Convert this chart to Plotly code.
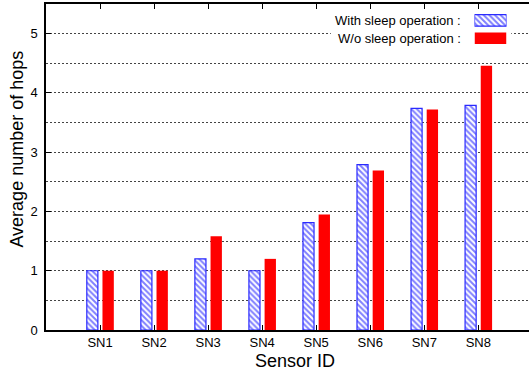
import plotly.graph_objects as go

# Average hop count per sensor node, with and without sleep scheduling
sensors = ["SN1", "SN2", "SN3", "SN4", "SN5", "SN6", "SN7", "SN8"]
hops_with_sleep = [1.0, 1.0, 1.2, 1.0, 1.81, 2.79, 3.74, 3.79]
hops_without_sleep = [1.0, 1.0, 1.58, 1.2, 1.95, 2.69, 3.72, 4.46]
series_names = ["With sleep operation :", "W/o sleep operation :"]
y_tick_values = [0, 1, 2, 3, 4, 5]

positions = list(range(1, len(sensors) + 1))

FONT = "Liberation Sans, Arial, Helvetica, sans-serif"
BLUE = "#0000ff"
RED = "#ff0000"

hatch = dict(shape="\\", fgcolor=BLUE, bgcolor="white", size=4, solidity=0.5)

fig = go.Figure()

fig.add_trace(go.Bar(
    x=positions, y=hops_with_sleep, name=series_names[0],
    width=0.205, offset=-0.245,
    marker=dict(color="white", pattern=hatch,
                line=dict(color="#2a2aff", width=1.2)),
    showlegend=False,
))
fig.add_trace(go.Bar(
    x=positions, y=hops_without_sleep, name=series_names[1],
    width=0.21, offset=0.045,
    marker=dict(color=RED, line=dict(width=0)),
    showlegend=False,
))

# Key swatches drawn in a small inset subplot next to the key labels
key_rows = [0, 1]
key_lengths = [1, 1]
fig.add_trace(go.Bar(
    x=key_lengths[:1], y=key_rows[:1], orientation="h", width=0.65,
    marker=dict(color="white", pattern=hatch,
                line=dict(color="#2a2aff", width=1.2)),
    xaxis="x2", yaxis="y2", showlegend=False, hoverinfo="skip",
))
fig.add_trace(go.Bar(
    x=key_lengths[1:], y=key_rows[1:], orientation="h", width=0.65,
    marker=dict(color=RED, line=dict(width=0)),
    xaxis="x2", yaxis="y2", showlegend=False, hoverinfo="skip",
))

grid_style = dict(gridcolor="#444444", gridwidth=1, griddash="2px,2px")

fig.update_layout(
    width=529, height=371,
    margin=dict(l=46, r=0, t=4, b=41),
    paper_bgcolor="white", plot_bgcolor="white",
    barmode="overlay",
    font=dict(family=FONT, size=13, color="black"),
    xaxis=dict(
        range=[0, 8.938],
        tickvals=positions, ticktext=sensors,
        ticks="inside", ticklen=5, tickwidth=1, tickcolor="black",
        showline=True, linecolor="black", linewidth=1.5, mirror="ticks",
        showgrid=False, zeroline=False,
        tickfont=dict(family=FONT, size=13),
    ),
    yaxis=dict(
        range=[0, 5.5],
        tickvals=y_tick_values,
        ticks="inside", ticklen=5, tickwidth=1, tickcolor="black",
        showline=True, linecolor="black", linewidth=1.5,
        showgrid=True, zeroline=False,
        minor=dict(dtick=0.5, showgrid=True, **grid_style),
        tickfont=dict(family=FONT, size=13),
        ticklabelstandoff=4,
        **grid_style,
    ),
    xaxis2=dict(domain=[0.8872, 0.9534], anchor="y2", range=[0, 1],
                visible=False, fixedrange=True),
    yaxis2=dict(domain=[0.8681, 0.9767], anchor="x2", range=[1.5, -0.5],
                visible=False, fixedrange=True),
    shapes=[
        # white backing behind the key, hiding the grid there
        dict(type="rect", xref="x", yref="y",
             x0=5.27, x1=8.61, y0=4.76, y1=5.42,
             fillcolor="white", line=dict(width=0), layer="between"),
    ],
    annotations=[
        dict(text=series_names[0], xref="paper", yref="paper",
             x=0.8634, y=0.948, xanchor="right", yanchor="middle",
             showarrow=False, font=dict(family=FONT, size=13)),
        dict(text=series_names[1], xref="paper", yref="paper",
             x=0.8634, y=0.894, xanchor="right", yanchor="middle",
             showarrow=False, font=dict(family=FONT, size=13)),
        dict(text="Average number of hops", xref="paper", yref="paper",
             x=-0.059, y=0.555, xanchor="center", yanchor="middle",
             textangle=-90, showarrow=False, font=dict(family=FONT, size=18)),
        dict(text="Sensor ID", xref="paper", yref="paper",
             x=0.515, y=-0.094, xanchor="center", yanchor="middle",
             showarrow=False, font=dict(family=FONT, size=18)),
    ],
)

fig.write_html("out.html")
